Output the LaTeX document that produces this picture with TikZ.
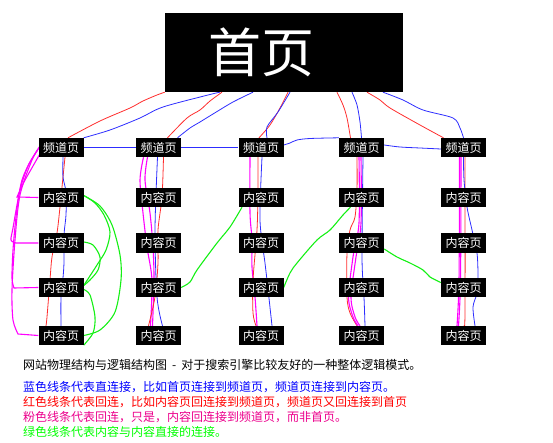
\documentclass[tikz,border=0pt]{standalone}
\usepackage{fontspec}
\setmainfont{Noto Sans CJK SC}
\usetikzlibrary{backgrounds}
\definecolor{lineblue}{RGB}{45,45,255}
\definecolor{linered}{RGB}{255,45,45}
\definecolor{linepink}{RGB}{255,0,255}
\definecolor{linegreen}{RGB}{20,240,20}

\begin{document}
\begin{tikzpicture}[x=1pt,y=-1pt,
  home node/.style={fill=black,text=white,inner sep=0pt,minimum width=238pt,minimum height=79pt,font=\fontsize{53}{53}\selectfont},
  main node/.style={fill=black,text=white,inner sep=0pt,minimum width=45pt,minimum height=19pt,font=\fontsize{12}{12}\selectfont},
  note/.style={anchor=west,inner sep=0pt,font=\fontsize{12}{12}\selectfont},
  blue line/.style={draw=lineblue,line width=0.8pt},
  red line/.style={draw=linered,line width=0.8pt},
  pink line/.style={draw=linepink,line width=1.1pt},
  green line/.style={draw=linegreen,line width=1.1pt}]
  \useasboundingbox (0,0) rectangle (553,443);

  \node[home node] (home) at (284,52.5) {首页\kern46pt\relax};

  \node[main node] (ch1) at (61,147.5) {频道页};
  \node[main node] (ch2) at (158.5,147.5) {频道页};
  \node[main node] (ch3) at (261,147.5) {频道页};
  \node[main node] (ch4) at (361.5,147.5) {频道页};
  \node[main node] (ch5) at (463.5,147.5) {频道页};

  \node[main node] (c11) at (61,197.5) {内容页};
  \node[main node] (c12) at (61,243) {内容页};
  \node[main node] (c13) at (61,287.5) {内容页};
  \node[main node] (c14) at (61,335.5) {内容页};
  \node[main node] (c21) at (158.5,197.5) {内容页};
  \node[main node] (c22) at (158.5,243) {内容页};
  \node[main node] (c23) at (158.5,287.5) {内容页};
  \node[main node] (c24) at (158.5,335.5) {内容页};
  \node[main node] (c31) at (261,197.5) {内容页};
  \node[main node] (c32) at (261,243) {内容页};
  \node[main node] (c33) at (261,287.5) {内容页};
  \node[main node] (c34) at (261,335.5) {内容页};
  \node[main node] (c41) at (361.5,197.5) {内容页};
  \node[main node] (c42) at (361.5,243) {内容页};
  \node[main node] (c43) at (361.5,287.5) {内容页};
  \node[main node] (c44) at (361.5,335.5) {内容页};
  \node[main node] (c51) at (463.5,197.5) {内容页};
  \node[main node] (c52) at (463.5,243) {内容页};
  \node[main node] (c53) at (463.5,287.5) {内容页};
  \node[main node] (c54) at (463.5,335.5) {内容页};

  \node[note] (t1) at (23,365) {网站物理结构与逻辑结构图\hspace{5pt}-\hspace{5pt}对于搜索引擎比较友好的一种整体逻辑模式。};
  \node[note,text=blue] (t2) at (23,387) {蓝色线条代表直连接，比如首页连接到频道页，频道页连接到内容页。};
  \node[note,text=red] (t3) at (23,402) {红色线条代表回连，比如内容页回连接到频道页，频道页又回连接到首页};
  \node[note,text=magenta] (t4) at (23,417) {粉色线条代表回连，只是，内容回连接到频道页，而非首页。};
  \node[note,text=green] (t5) at (23,431.5) {绿色线条代表内容与内容直接的连接。};

  \begin{scope}[on background layer]
  % home -- channels
  \draw[red line] plot[smooth] coordinates {(home.south west) (157,95) (143,101) (130,108) (100,121) ([xshift=7pt]ch1.north)};
  \draw[blue line] plot[smooth] coordinates {([xshift=-64pt]home.south) (210,94.5) (163,107) (140,118) (110,130) (ch1.north east)};
  \draw[red line] plot[smooth] coordinates {([xshift=-62pt]home.south) (210,101) (200,110) (187,118) ([xshift=9pt]ch2.north)};
  \draw[blue line] plot[smooth] coordinates {([xshift=-31pt]home.south) (233,102) (213,114) (200,122) (190,128) ([xshift=19pt]ch2.north)};
  \draw[red line] plot[smooth] coordinates {([xshift=4pt]home.south) (280,108) (270,125) ([xshift=-2pt]ch3.north)};
  \draw[blue line] plot[smooth] coordinates {([xshift=6pt]home.south) (278,112) (267,127) ([xshift=6pt]ch3.north)};
  \draw[red line] plot[smooth] coordinates {([xshift=53pt]home.south) (343,105) (347,118) ([xshift=-11pt]ch4.north)};
  \draw[blue line] plot[smooth] coordinates {([xshift=68pt]home.south) (357,105) (360,122) (ch4.north)};
  \draw[red line] plot[smooth] coordinates {([xshift=83pt]home.south) (380,100) (390,108) (420,125) ([xshift=-20pt]ch5.north)};
  \draw[blue line] plot[smooth] coordinates {([xshift=99pt]home.south) (403,100) (423,110) (453,118) (460,128) (ch5.north)};

  % channel -- channel
  \draw[blue line] (ch1.east) -- (ch2.west);
  \draw[blue line] (ch2.east) -- (ch3.west);
  \draw[blue line] plot[smooth] coordinates {([yshift=2.5pt]ch3.east) (290,143) (297,140) (310,138.5) (ch4.north west)};
  \draw[blue line] plot[smooth] coordinates {([yshift=2.5pt]ch4.east) (400,147) (420,148) ([yshift=-1.5pt]ch5.west)};

  % column 1
  \draw[red line] plot[smooth] coordinates {([xshift=4pt]ch1.south) (63,177) (60,207) (57,233) (52,257) (50,280) (47,317) ([xshift=-15pt]c14.north)};
  \draw[blue line] plot[smooth] coordinates {([xshift=2pt]ch1.south) (63,177) (66,192) (66,215) (64,235) (64,262) (63,278) (61,297) (c14.north)};
  \draw[pink line] plot[smooth] coordinates {([shift={(3,4)}]ch1.west) (33,166) (24,182) (17,197)} -- (c11.west);
  \draw[pink line] plot[smooth] coordinates {([shift={(1,0)}]ch1.west) (30,162) (22,180) (17,205) (13,228) (11,240) (16,243)} -- (c12.west);
  \draw[pink line] plot[smooth] coordinates {([shift={(-1,3)}]ch1.west) (28,166) (20,190) (16,217) (13,250) (12,278) (14,288)} -- (c13.west);
  \draw[pink line] plot[smooth] coordinates {([shift={(2,-2)}]ch1.west) (32,160) (20,195) (15,240) (12,290) (13,320) (18,334)} -- (c14.west);
  \draw[green line] plot[smooth] coordinates {([yshift=2pt]c11.east) (95,203) (104,215) (110,232) (106,250) (97,265) ([yshift=2pt]c13.east)};
  \draw[green line] plot[smooth] coordinates {([yshift=2pt]c11.east) (100,206) (112,225) (120,255) (121,280) (115,312) (100,330) (c14.east)};
  \draw[green line] plot[smooth] coordinates {([yshift=1pt]c12.east) (93,245) (100,257) (98,270) (90,280) ([yshift=2pt]c13.east)};
  \draw[green line] plot[smooth] coordinates {([yshift=-2pt]c13.east) (90,295) (95,317) (93,333) (c14.south east)};

  % column 2
  \draw[pink line] plot[smooth] coordinates {([xshift=-15pt]ch2.south) (140,180) (143,213) (147,247) (152,280) ([xshift=-8pt]c24.north)};
  \draw[pink line] plot[smooth] coordinates {([xshift=-11pt]ch2.south) (145,180) (150,213) (153,247) (154,280) ([xshift=-6pt]c24.north)};
  \draw[red line] plot[smooth] coordinates {([xshift=5pt]ch2.south) (162,197) (158,230) (158,263) (155,297) ([xshift=-10pt]c24.north)};
  \draw[blue line] plot[smooth] coordinates {([xshift=-1pt]ch2.south) (155,230) (157,297) ([xshift=4pt]c24.north)};
  \draw[green line] plot[smooth] coordinates {(c23.east) (190,282) (197,270) (217,243) (230,227) ([xshift=-19pt]c31.south)};

  % column 3
  \draw[pink line] plot[smooth] coordinates {([xshift=-11pt]ch3.south) (250,213) (252,240) (252,267) (255,297) ([xshift=-4pt]c34.north)};
  \draw[red line] plot[smooth] coordinates {([xshift=-3pt]ch3.south) (258,190) (257,230) (253,280) (253,313) ([xshift=-5pt]c34.north)};
  \draw[blue line] plot[smooth] coordinates {([xshift=1pt]ch3.south) (260,220) (265,263) (267,280) ([xshift=11pt]c34.north)};
  \draw[green line] plot[smooth] coordinates {(c33.east) (290,273) (297,263) (317,240) (330,230) (343,215) ([xshift=-11pt]c41.south)};

  % column 4
  \draw[red line] plot[smooth] coordinates {([xshift=-4.5pt]ch4.south) (357,190) (355,217) (350,230) (347,253) (347,297) (350,313) ([xshift=-4.5pt]c44.north)};
  \draw[pink line] plot[smooth] coordinates {([xshift=-2.5pt]ch4.south) (359,223) (353,257) (348.5,297) (353,317) ([xshift=-3.5pt]c44.north)};
  \draw[pink line] plot[smooth] coordinates {([xshift=-0.5pt]ch4.south) (361,223) (356,257) (351,297) (355,317) ([xshift=-1.5pt]c44.north)};
  \draw[blue line] plot[smooth] coordinates {([xshift=1.5pt]ch4.south) (362,257) (364,297) ([xshift=3.5pt]c44.north)};
  \draw[green line] plot[smooth] coordinates {([yshift=-6pt]c42.east) (397,257) (410,263) (423,270) (430,277) ([yshift=5pt]c53.west)};

  % column 5
  \draw[pink line] plot[smooth] coordinates {([xshift=-4pt]ch5.south) (459,280) ([xshift=-6.5pt]c54.north)};
  \draw[pink line] plot[smooth] coordinates {([xshift=-2.5pt]ch5.south) (460.5,280) ([xshift=-5pt]c54.north)};
  \draw[red line] plot[smooth] coordinates {([xshift=1.5pt]ch5.south) (465,313) (c54.north)};
  \draw[blue line] plot[smooth] coordinates {(ch5.south) (464,180) (467,207) (472,230) (477,253) (478,277) (477,293) (473,307) ([xshift=11.5pt]c54.north)};
  \end{scope}
\end{tikzpicture}
\end{document}
